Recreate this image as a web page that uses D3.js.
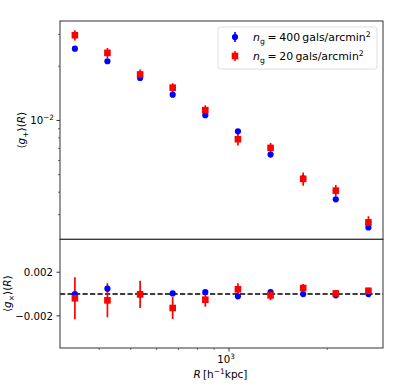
<!DOCTYPE html>
<html><head><meta charset="utf-8">
<script src="https://cdn.jsdelivr.net/npm/d3@7"></script>
<style>body{margin:0;background:#fff}svg{display:block;font-family:"DejaVu Sans",sans-serif}</style>
</head><body><svg id="c" width="399" height="391"></svg>
<script>
// ---- data ----
const R = [337, 424, 534, 672, 846, 1065, 1341, 1688, 2125, 2675];
const gPlus400 = [0.0250, 0.0213, 0.0172, 0.0139, 0.0107, 0.0087, 0.00647, 0.00478, 0.00365, 0.00255];
const gPlus400Err = [0.0005, 0.0004, 0.0003, 0.00025, 0.0002, 0.00016, 0.00012, 0.0001, 0.00008, 0.00006];
const gPlus20 = [0.0297, 0.0237, 0.0180, 0.0152, 0.0114, 0.00787, 0.00704, 0.00474, 0.00408, 0.00272];
const gPlus20Err = [0.0019, 0.0015, 0.0012, 0.0009, 0.00075, 0.0006, 0.00045, 0.0004, 0.0003, 0.00022];
const gCross400 = [0.0, 0.00049, -0.00003, 0.00006, 0.00018, -0.00021, 0.00018, 0.0, -0.00012, 0.0];
const gCross400Err = [0.00015, 0.00015, 0.00015, 0.00012, 0.00012, 0.0001, 0.0001, 0.0001, 0.0001, 0.0001];
const gCross20 = [-0.00039, -0.00058, -0.00003, -0.00128, -0.00052, 0.00043, -0.00012, 0.00055, 0.00006, 0.0003];
const gCross20Err = [0.00193, 0.00156, 0.00124, 0.00101, 0.00064, 0.00055, 0.00046, 0.00037, 0.0003, 0.00028];
const yTopMajor = [0.01];
const yTopMinor = [0.003, 0.004, 0.005, 0.006, 0.007, 0.008, 0.009, 0.02, 0.03];
const yBotTicks = [0.002, -0.002];
const yBotTickLabels = ["0.002", "\u22120.002"];
const xMajor = [1000];
const xMinor = [400, 500, 600, 700, 800, 900, 2000];

// ---- layout ----
const L = 60, Rt = 383, T = 21, M = 239.3, B = 348;
const svg = d3.select("#c");
const x = d3.scaleLog().domain([Math.pow(10, 2.482), Math.pow(10, 3.472)]).range([L, Rt]);
const yT = d3.scaleLog().domain([0.002191, 0.03562]).range([M, T]);
const yB = d3.scaleLinear().domain([-0.00495, 0.00502]).range([B, M]);
const blue = "#0000ff", red = "#ff0000";

const defs = svg.append("defs");
defs.append("clipPath").attr("id", "ct").append("rect").attr("x", L).attr("y", T).attr("width", Rt - L).attr("height", M - T);
defs.append("clipPath").attr("id", "cb").append("rect").attr("x", L).attr("y", M).attr("width", Rt - L).attr("height", B - M);

function errLines(g, xs, ys, es, ysc, color, ew) {
  g.selectAll(null).data(xs).enter().append("line")
    .attr("x1", d => x(d)).attr("x2", d => x(d))
    .attr("y1", (d, i) => ysc(ys[i] - es[i])).attr("y2", (d, i) => ysc(ys[i] + es[i]))
    .attr("stroke", color).attr("stroke-width", ew);
}
function markers(g, xs, ys, ysc, color, shape) {
  if (shape === "circle") {
    g.selectAll(null).data(xs).enter().append("circle")
      .attr("cx", d => x(d)).attr("cy", (d, i) => ysc(ys[i])).attr("r", 3.1).attr("fill", color);
  } else {
    const s = 6.6;
    g.selectAll(null).data(xs).enter().append("rect")
      .attr("x", d => x(d) - s / 2).attr("y", (d, i) => ysc(ys[i]) - s / 2)
      .attr("width", s).attr("height", s).attr("fill", color);
  }
}

// ---- top panel ----
const gt = svg.append("g").attr("clip-path", "url(#ct)");
errLines(gt, R, gPlus400, gPlus400Err, yT, blue, 1.6);
errLines(gt, R, gPlus20, gPlus20Err, yT, red, 1.7);
markers(gt, R, gPlus400, yT, blue, "circle");
markers(gt, R, gPlus20, yT, red, "square");

// ---- bottom panel ----
const gb = svg.append("g").attr("clip-path", "url(#cb)");
gb.append("line").attr("x1", L).attr("x2", Rt).attr("y1", yB(0)).attr("y2", yB(0))
  .attr("stroke", "#000").attr("stroke-width", 1.4).attr("stroke-dasharray", "5.2,2.3");
errLines(gb, R, gCross20, gCross20Err, yB, red, 1.7);
errLines(gb, R, gCross400, gCross400Err, yB, blue, 1.6);
markers(gb, R, gCross400, yB, blue, "circle");
markers(gb, R, gCross20, yB, red, "square");

// ---- frames ----
const frame = "#333";
svg.append("rect").attr("x", L).attr("y", T).attr("width", Rt - L).attr("height", M - T)
  .attr("fill", "none").attr("stroke", frame).attr("stroke-width", 1);
svg.append("rect").attr("x", L).attr("y", M).attr("width", Rt - L).attr("height", B - M)
  .attr("fill", "none").attr("stroke", frame).attr("stroke-width", 1);

// ---- axes ----
const fs = 10.2;
const axT = svg.append("g");
yTopMajor.forEach(v => {
  axT.append("line").attr("x1", L - 3.5).attr("x2", L).attr("y1", yT(v)).attr("y2", yT(v)).attr("stroke", frame);
  const t = axT.append("text").attr("x", L - 6).attr("y", yT(v) + 4).attr("text-anchor", "end")
    .attr("font-size", fs).attr("fill", "#000");
  t.append("tspan").text("10");
  t.append("tspan").attr("dy", -4.5).attr("font-size", 7.3).text("\u22122");
});
yTopMinor.forEach(v => {
  axT.append("line").attr("x1", L - 2).attr("x2", L).attr("y1", yT(v)).attr("y2", yT(v)).attr("stroke", frame).attr("stroke-width", 0.7);
});
yBotTicks.forEach((v, i) => {
  axT.append("line").attr("x1", L - 3.5).attr("x2", L).attr("y1", yB(v)).attr("y2", yB(v)).attr("stroke", frame);
  axT.append("text").attr("x", L - 7).attr("y", yB(v) + 3.8).attr("text-anchor", "end")
    .attr("font-size", fs).attr("fill", "#000").text(yBotTickLabels[i]);
});
xMajor.forEach(v => {
  axT.append("line").attr("x1", x(v)).attr("x2", x(v)).attr("y1", B).attr("y2", B + 3.5).attr("stroke", frame);
  const t = axT.append("text").attr("x", x(v) - 3).attr("y", B + 15).attr("text-anchor", "middle")
    .attr("font-size", fs).attr("fill", "#000");
  t.append("tspan").text("10");
  t.append("tspan").attr("dy", -4.5).attr("font-size", 7.3).text("3");
});
xMinor.forEach(v => {
  axT.append("line").attr("x1", x(v)).attr("x2", x(v)).attr("y1", B).attr("y2", B + 2).attr("stroke", frame).attr("stroke-width", 0.7);
});

// axis labels
function gLabel(tx, ty, sub) {
  const t = svg.append("text").attr("transform", `translate(${tx},${ty}) rotate(-90)`)
    .attr("text-anchor", "middle").attr("font-size", 10.5).attr("fill", "#000");
  t.append("tspan").text("\u27E8");
  t.append("tspan").attr("font-style", "italic").text("g");
  t.append("tspan").attr("dy", 2.5).attr("font-size", 7.5).text(sub);
  t.append("tspan").attr("dy", -2.5).text("\u27E9(");
  t.append("tspan").attr("font-style", "italic").text("R");
  t.append("tspan").text(")");
}
gLabel(25, (T + M) / 2, "+");
gLabel(11, (M + B) / 2, "\u00D7");

const xl = svg.append("text").attr("x", (L + Rt) / 2 - 1).attr("y", 378).attr("text-anchor", "middle")
  .attr("font-size", 10.5).attr("fill", "#000");
xl.append("tspan").attr("font-style", "italic").text("R");
xl.append("tspan").text("\u2009[h");
xl.append("tspan").attr("dy", -4.5).attr("font-size", 7.5).text("\u22121");
xl.append("tspan").attr("dy", 4.5).text("kpc]");

// ---- legend ----
const lg = svg.append("g");
lg.append("rect").attr("x", 218).attr("y", 27).attr("width", 159).attr("height", 42).attr("rx", 2.5)
  .attr("fill", "#fff").attr("fill-opacity", 0.8).attr("stroke", "#d6d6d6").attr("stroke-width", 0.8);
const legItems = [
  {color: blue, shape: "circle", num: "400", y: 37},
  {color: red, shape: "square", num: "20", y: 56}
];
legItems.forEach(it => {
  lg.append("line").attr("x1", 235).attr("x2", 235).attr("y1", it.y - 5).attr("y2", it.y + 5)
    .attr("stroke", it.color).attr("stroke-width", 1.6);
  if (it.shape === "circle") lg.append("circle").attr("cx", 235).attr("cy", it.y).attr("r", 3.1).attr("fill", it.color);
  else lg.append("rect").attr("x", 235 - 3.3).attr("y", it.y - 3.3).attr("width", 6.6).attr("height", 6.6).attr("fill", it.color);
  const t = lg.append("text").attr("x", 253).attr("y", it.y + 4).attr("font-size", 10.9).attr("fill", "#000");
  t.append("tspan").attr("font-style", "italic").text("n");
  t.append("tspan").attr("dy", 2.5).attr("font-size", 7.7).text("g");
  t.append("tspan").attr("dy", -2.5).text("\u2005=\u2005" + it.num + "\u2009gals/arcmin");
  t.append("tspan").attr("dy", -4.5).attr("font-size", 7.7).text("2");
});
</script></body></html>
